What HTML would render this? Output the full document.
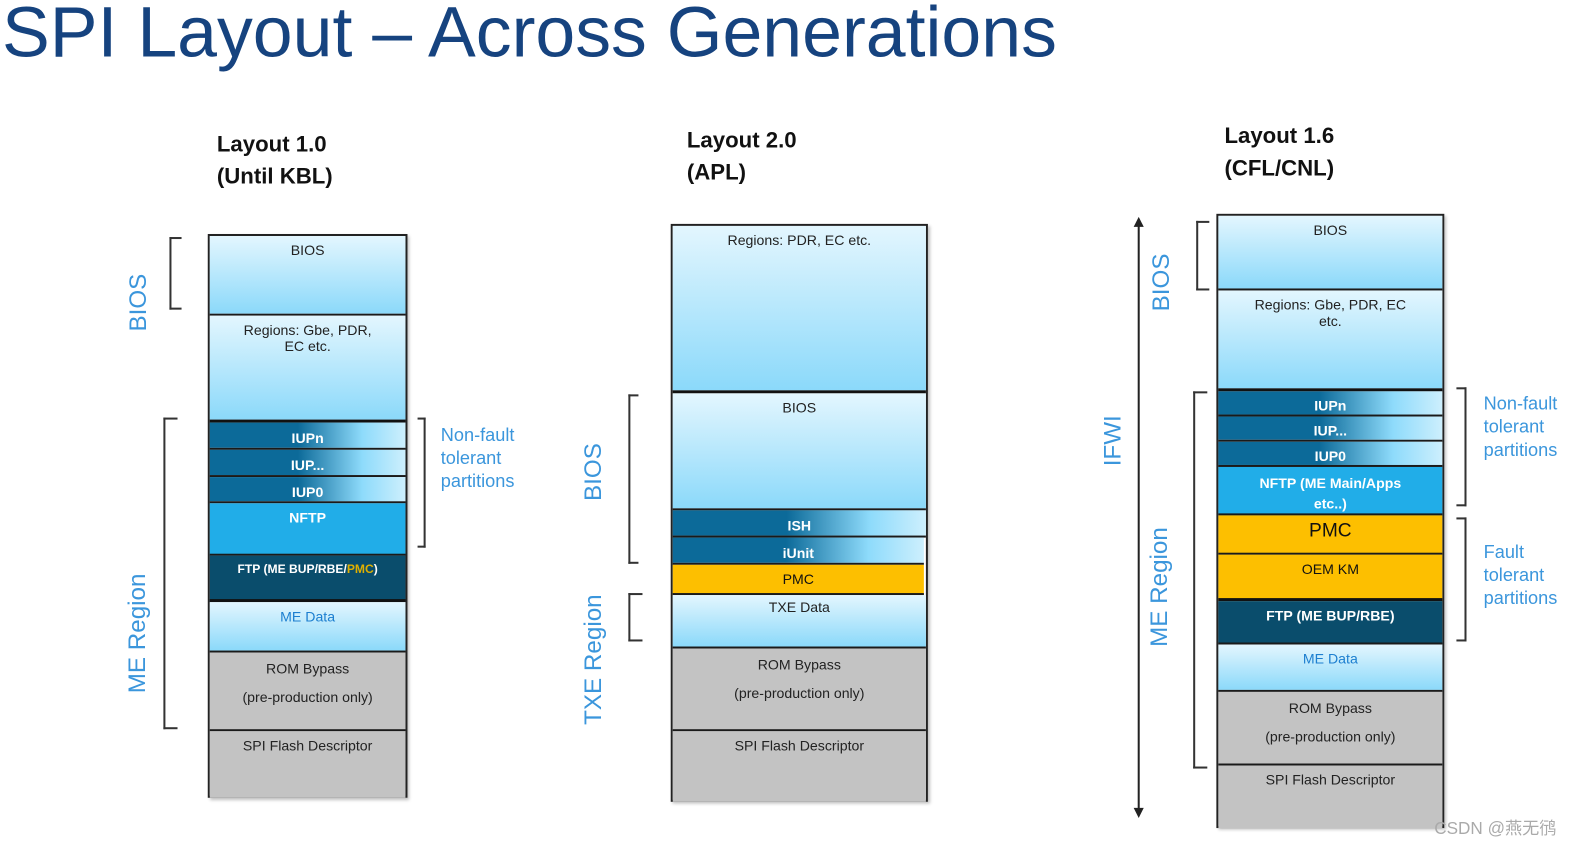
<!DOCTYPE html>
<html style="margin:0;width:1582px;height:853px;overflow:hidden"><head><meta charset="utf-8"><style>
body{margin:0;width:1582px;height:853px;background:#fff;position:relative;overflow:hidden;font-family:"Liberation Sans",sans-serif}
#w{position:absolute;left:0;top:0;width:1582px;height:853px;transform:scale(1.0086);transform-origin:0 0;overflow:hidden}
.a{position:absolute}
.col{position:absolute;border:2px solid #222;box-sizing:border-box;box-shadow:2px 2px 3px rgba(0,0,0,.25)}
.b{position:absolute;left:0;right:0;box-sizing:border-box;border-bottom:2px solid #1a1a1a;text-align:center;font-size:14px;padding-top:6px;color:#222}
.lt{background:linear-gradient(#e3f6fe,#8bd9fa)}
.iu{background:linear-gradient(90deg,#0c6a99 45%,#8edbfb 78%,#cdeffd);color:#fff;font-weight:bold;padding-top:7px;font-size:14px}
.nf{background:#21ade8;color:#fff;font-weight:bold}
.ft{background:#0a4d6c;color:#fff;font-weight:bold;font-size:12px}
.pm{background:#fdbf00;color:#111}
.gr{background:#c3c3c3;color:#222}
.md{color:#1d7fd0}
.h{position:absolute;font-size:22px;font-weight:bold;color:#111;line-height:32px}
.vl{position:absolute;color:#3b96dc;font-size:24px;transform:rotate(-90deg);transform-origin:center;white-space:nowrap;text-align:center}
.br{position:absolute;border:2px solid #333;box-sizing:border-box}
.bl{border-right:none}
.bri{border-left:none}
.nt{position:absolute;color:#3b96dc;font-size:18px;line-height:23px}
</style></head><body><div id="w">
<div class="a" style="left:2px;top:-8px;font-size:71px;color:#16437f;white-space:nowrap">SPI Layout – Across Generations</div>

<div class="h" style="left:215px;top:127px">Layout 1.0<br>(Until KBL)</div>
<div class="h" style="left:681px;top:123px">Layout 2.0<br>(APL)</div>
<div class="h" style="left:1214px;top:119px">Layout 1.6<br>(CFL/CNL)</div>

<div class="col" style="left:206px;top:232px;width:198px;height:559px">
<div class="b lt" style="top:0;height:79px">BIOS</div>
<div class="b lt" style="top:79px;height:106px;border-bottom:3px solid #111">Regions: Gbe, PDR,<br>EC etc.</div>
<div class="b iu" style="top:185px;height:27px">IUPn</div>
<div class="b iu" style="top:212px;height:27px">IUP...</div>
<div class="b iu" style="top:239px;height:26px">IUP0</div>
<div class="b nf" style="top:265px;height:52px">NFTP</div>
<div class="b ft" style="top:317px;height:46px;border-bottom:3px solid #111">FTP (ME BUP/RBE/<span style="color:#e0b000">PMC</span>)</div>
<div class="b lt md" style="top:363px;height:50px">ME Data</div>
<div class="b gr" style="top:413px;height:78px;line-height:28px;padding-top:2px">ROM Bypass<br>(pre-production only)</div>
<div class="b gr" style="top:491px;height:66px;border:none">SPI Flash Descriptor</div>
</div>
<div class="br bl" style="left:168px;top:235px;width:12px;height:72px"></div>
<div class="vl" style="left:98px;top:286px;width:80px">BIOS</div>
<div class="br bl" style="left:162px;top:414px;width:14px;height:309px"></div>
<div class="vl" style="left:77px;top:614px;width:120px">ME Region</div>
<div class="br bri" style="left:414px;top:414px;width:8px;height:129px"></div>
<div class="nt" style="left:437px;top:420px">Non-fault<br>tolerant<br>partitions</div>

<div class="col" style="left:665px;top:222px;width:255px;height:573px">
<div class="b lt" style="top:0;height:166px;border-bottom:3px solid #111">Regions: PDR, EC etc.</div>
<div class="b lt" style="top:166px;height:116px">BIOS</div>
<div class="b iu" style="top:282px;height:27px">ISH</div>
<div class="b iu" style="top:309px;height:27px;right:2px">iUnit</div>
<div class="b pm" style="top:336px;height:30px;right:2px">PMC</div>
<div class="b lt" style="top:366px;height:53px;padding-top:4px">TXE Data</div>
<div class="b gr" style="top:419px;height:82px;line-height:28px;padding-top:2px">ROM Bypass<br>(pre-production only)</div>
<div class="b gr" style="top:501px;height:70px;border:none">SPI Flash Descriptor</div>
</div>
<div class="br bl" style="left:623px;top:391px;width:10px;height:168px"></div>
<div class="vl" style="left:549px;top:454px;width:80px">BIOS</div>
<div class="br bl" style="left:623px;top:588px;width:14px;height:48px"></div>
<div class="vl" style="left:519px;top:640px;width:140px">TXE Region</div>

<div class="col" style="left:1206px;top:212px;width:226px;height:609px">
<div class="b lt" style="top:0;height:74px">BIOS</div>
<div class="b lt" style="top:74px;height:100px;border-bottom:3px solid #111">Regions: Gbe, PDR, EC<br>etc.</div>
<div class="b iu" style="top:174px;height:25px;padding-top:6px">IUPn</div>
<div class="b iu" style="top:199px;height:25px;padding-top:6px">IUP...</div>
<div class="b iu" style="top:224px;height:25px;padding-top:6px">IUP0</div>
<div class="b nf" style="top:249px;height:48px;padding-top:6px;line-height:20px">NFTP (ME Main/Apps<br>etc..)</div>
<div class="b pm" style="top:297px;height:39px;font-size:19px;padding-top:5px">PMC</div>
<div class="b pm" style="top:336px;height:46px;border-bottom:3px solid #111">OEM KM</div>
<div class="b ft" style="top:382px;height:43px;font-size:14px">FTP (ME BUP/RBE)</div>
<div class="b lt md" style="top:425px;height:47px">ME Data</div>
<div class="b gr" style="top:472px;height:73px;line-height:28px;padding-top:2px">ROM Bypass<br>(pre-production only)</div>
<div class="b gr" style="top:545px;height:62px;border:none">SPI Flash Descriptor</div>
</div>
<svg class="a" style="left:1120px;top:215px" width="20" height="600"><line x1="9" y1="6" x2="9" y2="590" stroke="#222" stroke-width="2"/><polygon points="9,0 4,10 14,10" fill="#222"/><polygon points="9,596 4,586 14,586" fill="#222"/></svg>
<div class="vl" style="left:1064px;top:423px;width:80px">IFWI</div>
<div class="br bl" style="left:1186px;top:219px;width:13px;height:69px"></div>
<div class="vl" style="left:1112px;top:266px;width:80px">BIOS</div>
<div class="br bl" style="left:1183px;top:388px;width:14px;height:374px"></div>
<div class="vl" style="left:1090px;top:568px;width:120px">ME Region</div>
<div class="br bri" style="left:1444px;top:384px;width:10px;height:118px"></div>
<div class="br bri" style="left:1444px;top:513px;width:10px;height:123px"></div>
<div class="nt" style="left:1471px;top:389px">Non-fault<br>tolerant<br>partitions</div>
<div class="nt" style="left:1471px;top:536px">Fault<br>tolerant<br>partitions</div>
<div class="a" style="left:1422px;top:812px;font-size:17px;line-height:19px;color:#aaa;font-family:'Liberation Sans','Noto Sans CJK SC',sans-serif">CSDN @燕无鸻</div>
</div></body></html>
